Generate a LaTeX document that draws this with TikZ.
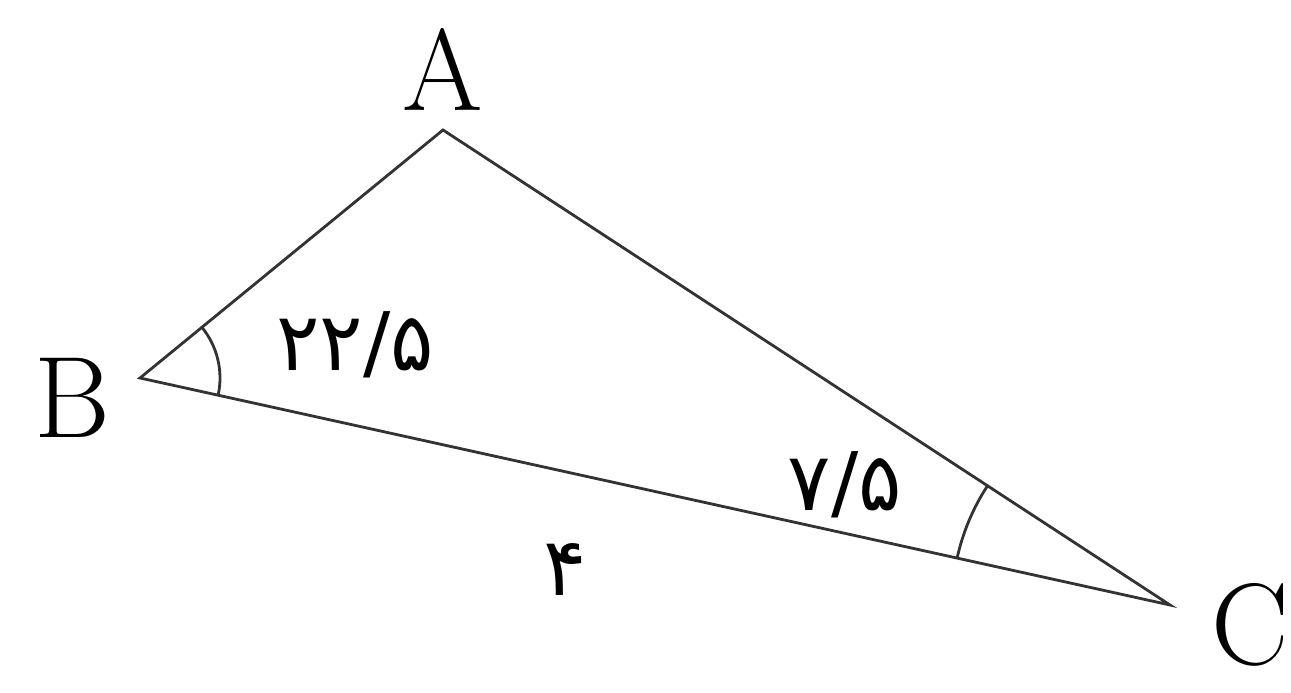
\documentclass[tikz,border=0pt]{standalone}
\usepackage{fontspec}
\newfontfamily\arabicfont[Script=Arabic]{DejaVu Sans}
\tikzset{
	side/.style={line width=1.6pt, color=black!80},
	vlabel/.style={font=\fontsize{66}{70}\selectfont},
	numlabel/.style={font=\arabicfont\fontsize{46}{50}\selectfont},
}
\begin{document}
\begin{tikzpicture}
	\useasboundingbox (0,0) rectangle (25.82,13.86);
	\begin{scope}
		\coordinate (A) at (8.86,11.26);
		\coordinate (B) at (2.80,6.30);
		\coordinate (C) at (23.40,1.76);
		\draw[side] (A) -- (B) -- (C) -- cycle;
		\draw[side] (B) ++(-12.43:1.6) arc[start angle=-12.43, end angle=39.30, radius=1.6];
		\draw[side] (C) ++(146.84:4.36) arc[start angle=146.84, end angle=167.57, radius=4.36];
		\node[vlabel] (lA) at (8.86,12.46) {A};
		\node[vlabel] (lB) at (1.44,5.90) {B};
		\node[vlabel] (lC) at (25.00,1.36) {C};
		\node[numlabel] (aB) at (7.10,6.96) {۲۲/۵};
		\node[numlabel] (aC) at (16.90,4.16) {۷/۵};
		\node[numlabel] (sBC) at (11.30,2.46) {۴};
	\end{scope}
\end{tikzpicture}
\end{document}
